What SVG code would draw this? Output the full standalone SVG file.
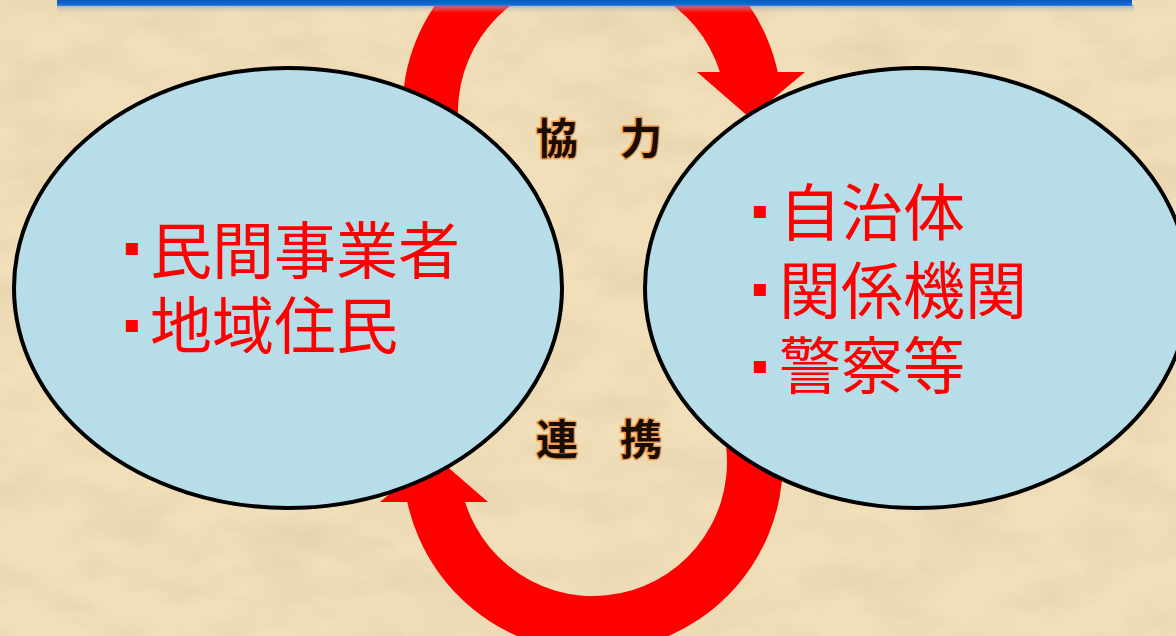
<svg xmlns="http://www.w3.org/2000/svg" width="1176" height="636" viewBox="0 0 1176 636">
  <defs>
    <filter id="paper" x="0" y="0" width="100%" height="100%" filterUnits="userSpaceOnUse">
      <feTurbulence type="fractalNoise" baseFrequency="0.012 0.025" numOctaves="4" seed="7"/>
      <feColorMatrix type="matrix" values="0 0 0 0 0.62  0 0 0 0 0.5  0 0 0 0 0.32  1.1 0 0 0 -0.42"/>
    </filter>
    <linearGradient id="barGrad" x1="0" y1="0" x2="0" y2="1">
      <stop offset="0" stop-color="#0a58bd"/>
      <stop offset="0.7" stop-color="#1268cf"/>
      <stop offset="1" stop-color="#3a86dc"/>
    </linearGradient>
    <linearGradient id="shadowGrad" x1="0" y1="0" x2="0" y2="1">
      <stop offset="0" stop-color="#8aa0b8" stop-opacity="0.7"/>
      <stop offset="1" stop-color="#c8c0b0" stop-opacity="0"/>
    </linearGradient>
    <path id="arc" d="M 405.84,150 A 190 190 0 0 1 777.74,72 L 805,72 L 750,118 L 697,72 L 719.89,72 A 134 134 0 0 0 463.5,150 Z"/>
  </defs>
  <style>
    .arrow { fill: #ff0000; }
    .node { fill: #b7dde8; stroke: #000000; stroke-width: 4; }
    .item { font-family: "Noto Sans CJK JP", "Noto Sans CJK SC", sans-serif; font-size: 62px; fill: #ff0000; }
    .bullet { font-family: "Noto Sans CJK JP", "Noto Sans CJK SC", sans-serif; font-size: 15px; fill: #ff0000; text-anchor: middle; }
    .label { font-family: "Noto Sans CJK JP", "Noto Sans CJK SC", sans-serif; font-size: 42px; font-weight: bold; fill: #1a0c02; stroke: #f0a050; stroke-width: 3; paint-order: stroke; stroke-linejoin: round; }
  </style>

  <g id="background">
    <rect x="0" y="0" width="1176" height="636" fill="#f1dfb9"/>
    <rect x="0" y="0" width="1176" height="636" filter="url(#paper)" opacity="0.55"/>
  </g>

  <g id="connectors">
    <use href="#arc" class="arrow"/>
    <use href="#arc" class="arrow" transform="rotate(180 592.5 287)"/>
    <text class="label" x="536" y="154">協　力</text>
    <text class="label" x="536" y="455">連　携</text>
  </g>

  <g id="node-left">
    <ellipse class="node" cx="288" cy="288" rx="274" ry="220"/>
    <text class="bullet" x="132" y="255">■</text>
    <text class="item" x="150" y="274">民間事業者</text>
    <text class="bullet" x="132" y="332">■</text>
    <text class="item" x="150" y="349">地域住民</text>
  </g>

  <g id="node-right">
    <ellipse class="node" cx="917" cy="288" rx="272" ry="220"/>
    <text class="bullet" x="760" y="218">■</text>
    <text class="item" x="779" y="236">自治体</text>
    <text class="bullet" x="760" y="296">■</text>
    <text class="item" x="779" y="314">関係機関</text>
    <text class="bullet" x="760" y="373">■</text>
    <text class="item" x="779" y="389">警察等</text>
  </g>

  <g id="header-bar">
    <rect x="57" y="5" width="1077" height="8" fill="url(#shadowGrad)"/>
    <rect x="57" y="0" width="1075" height="6" fill="url(#barGrad)"/>
  </g>
</svg>
